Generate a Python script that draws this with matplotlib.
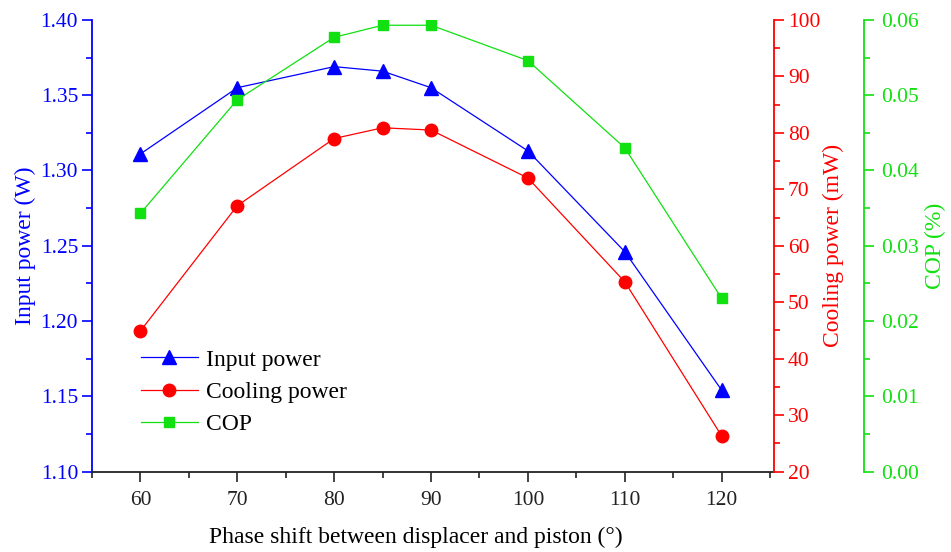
import matplotlib
matplotlib.use('Agg')
import matplotlib.pyplot as plt
from matplotlib.ticker import MultipleLocator, FormatStrFormatter

plt.rcParams['font.family'] = ['Liberation Serif', 'DejaVu Serif']

phase = [60, 70, 80, 85, 90, 100, 110, 120]
input_power = [1.311, 1.355, 1.369, 1.366, 1.355, 1.313, 1.246, 1.154]
cooling_power = [44.9, 67.1, 79.0, 80.9, 80.5, 72.0, 53.6, 26.3]
cop = [0.0343, 0.0494, 0.0577, 0.0593, 0.0593, 0.0546, 0.0430, 0.0230]

blue = '#0000ff'
red = '#ff0000'
green = '#11e011'
fs_tick = 15.5
fs_lab = 17

fig = plt.figure(figsize=(9.51, 5.52), dpi=100)
ax = fig.add_axes([0.0967, 0.1458, 0.8139 - 0.0967, 0.9638 - 0.1458])
ax2 = ax.twinx()
ax3 = ax.twinx()

l1, = ax.plot(phase, input_power, color=blue, lw=0.9, marker='^', ms=10,
              mfc=blue, mec=blue, label='Input power')
l2, = ax2.plot(phase, cooling_power, color=red, lw=0.9, marker='o', ms=9,
               mfc=red, mec=red, label='Cooling power')
l3, = ax3.plot(phase, cop, color=green, lw=0.9, marker='s', ms=7,
               mfc=green, mec=green, label='COP')

ax.set_xlim(55, 125.4)
ax.set_ylim(1.10, 1.40)
ax2.set_ylim(20, 100)
ax3.set_ylim(0, 0.06)

ax.xaxis.set_major_locator(MultipleLocator(10))
ax.xaxis.set_minor_locator(MultipleLocator(5))
ax.yaxis.set_major_locator(MultipleLocator(0.05))
ax.yaxis.set_minor_locator(MultipleLocator(0.025))
ax.yaxis.set_major_formatter(FormatStrFormatter('%.2f'))
ax2.yaxis.set_major_locator(MultipleLocator(10))
ax2.yaxis.set_minor_locator(MultipleLocator(5))
ax3.yaxis.set_major_locator(MultipleLocator(0.01))
ax3.yaxis.set_minor_locator(MultipleLocator(0.005))
ax3.yaxis.set_major_formatter(FormatStrFormatter('%.2f'))

# 90 px to the right of the red axis
ax3.spines['right'].set_position(('outward', 65))

for a in (ax, ax2, ax3):
    a.spines['top'].set_visible(False)
ax.spines['right'].set_visible(False)
ax2.spines['left'].set_visible(False)
ax3.spines['left'].set_visible(False)
ax2.spines['bottom'].set_visible(False)
ax3.spines['bottom'].set_visible(False)

ax.spines['left'].set_color(blue)
ax.spines['left'].set_linewidth(1.3)
ax.spines['bottom'].set_color('#222222')
ax.spines['bottom'].set_linewidth(1.3)
ax2.spines['right'].set_color(red)
ax2.spines['right'].set_linewidth(1.3)
ax3.spines['right'].set_color(green)
ax3.spines['right'].set_linewidth(1.3)

ax.tick_params(axis='x', which='major', direction='out', length=7, width=1.2,
               labelsize=fs_tick, pad=7, colors='#222222')
ax.tick_params(axis='x', which='minor', direction='out', length=4, width=1.2,
               colors='#222222')
ax.tick_params(axis='y', which='major', direction='out', length=7, width=1.2,
               labelsize=fs_tick, colors=blue, pad=3)
ax.tick_params(axis='y', which='minor', direction='out', length=4, width=1.2,
               colors=blue)
ax2.tick_params(axis='y', which='major', direction='out', length=7, width=1.2,
                labelsize=fs_tick, colors=red, pad=3)
ax2.tick_params(axis='y', which='minor', direction='out', length=4, width=1.2,
                colors=red)
ax3.tick_params(axis='y', which='major', direction='out', length=7, width=1.2,
                labelsize=fs_tick, colors=green, pad=5)
ax3.tick_params(axis='y', which='minor', direction='out', length=4, width=1.2,
                colors=green)

ax.set_xlabel('Phase shift between displacer and piston (°)', fontsize=fs_lab)
ax.xaxis.set_label_coords(0.475, -0.122)
ax.set_ylabel('Input power (W)', fontsize=fs_lab, color=blue, labelpad=3)
ax2.set_ylabel('Cooling power (mW)', fontsize=fs_lab, color=red, labelpad=2)
ax3.set_ylabel('COP (%)', fontsize=fs_lab, color=green, labelpad=4)

ax3.legend(handles=[l1, l2, l3], loc='upper left', bbox_to_anchor=(0.058, 0.292),
           frameon=False, fontsize=fs_lab, handlelength=2.4, handletextpad=0.35,
           labelspacing=0.45, borderaxespad=0)

fig.savefig('out.png', dpi=100)
